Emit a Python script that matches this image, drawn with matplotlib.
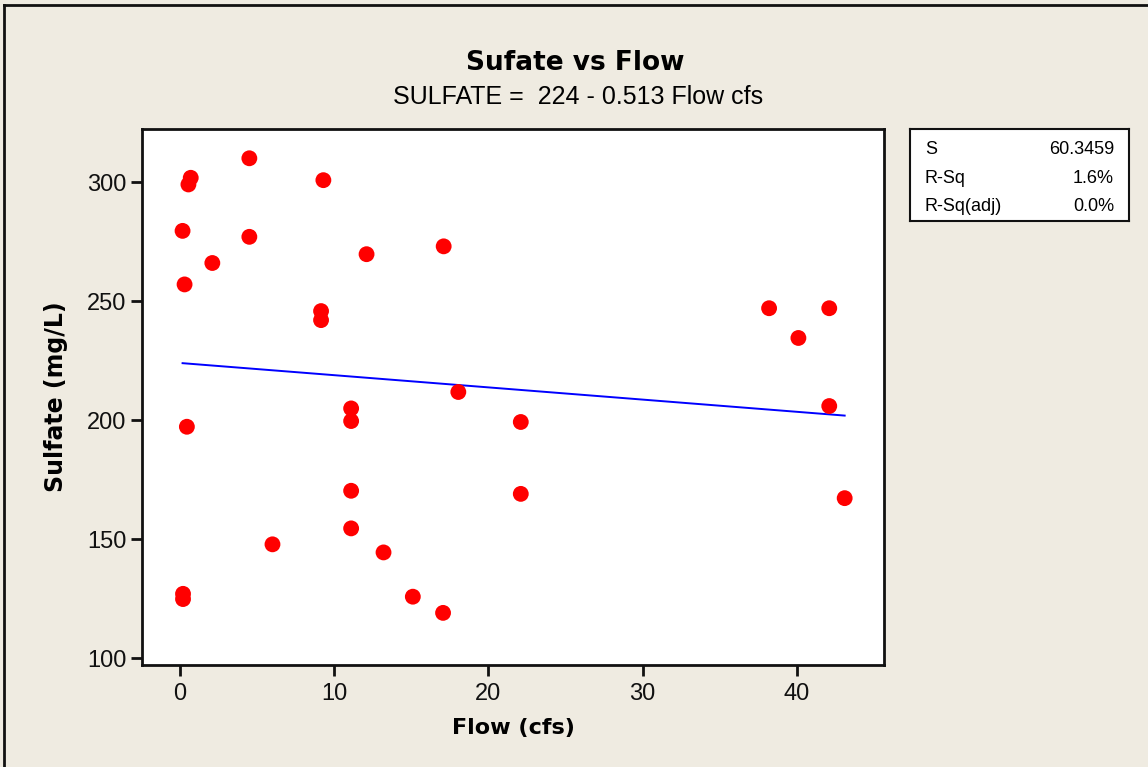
import numpy as np
import matplotlib
matplotlib.use("Agg")
import matplotlib.pyplot as plt
from matplotlib.lines import Line2D

# data
flow = [0.7, 0.55, 4.5, 9.3, 0.17, 4.5, 2.1, 0.3, 12.1, 17.1,
        9.15, 9.15, 0.45, 11.1, 11.1, 11.1, 11.1, 6.0, 13.2, 0.2,
        0.2, 15.1, 17.06, 18.05, 22.1, 22.1, 38.2, 40.1, 42.1, 42.1,
        43.1]
sulfate = [301.8, 299.0, 310.0, 300.8, 279.5, 277.0, 266.0, 257.0, 269.7, 273.0,
           245.8, 242.0, 197.2, 204.9, 199.6, 170.3, 154.5, 147.8, 144.4, 127.0,
           124.8, 125.8, 119.0, 211.8, 199.2, 169.0, 247.0, 234.5, 247.0, 205.9,
           167.2]

intercept = 224
slope = -0.513
stat_names = ["S", "R-Sq", "R-Sq(adj)"]
stat_values = ["60.3459", "1.6%", "0.0%"]

bg = "#EFEBE1"
plt.rcParams["font.family"] = ["Liberation Sans", "DejaVu Sans"]
bold = ["DejaVu Sans"]

W, H = 1148, 767
fig = plt.figure(figsize=(W / 100, H / 100), dpi=100, facecolor=bg)

def px(l, t, r, b):
    return [l / W, 1 - b / H, (r - l) / W, (b - t) / H]

ax = fig.add_axes(px(142, 129, 884, 665))
ax.set_facecolor("white")

xs = np.array([min(flow), max(flow)])
ax.plot(xs, intercept + slope * xs, color="#0000FF", lw=1.4, zorder=2)
ax.scatter(flow, sulfate, s=130, color="#FF0000", edgecolors="none", zorder=3)

ax.set_xlim(-2.46, 45.65)
ax.set_ylim(97.1, 322.3)
ax.set_xticks([0, 10, 20, 30, 40])
ax.set_yticks([100, 150, 200, 250, 300])
ax.tick_params(direction="out", length=8, width=2, labelsize=17,
               colors="#111111", pad=3)
ax.tick_params(axis="x", pad=5)
for sp in ax.spines.values():
    sp.set_linewidth(2)
    sp.set_color("#111111")

ax.set_xlabel("Flow (cfs)", fontsize=16, fontweight="bold", family=bold, labelpad=9)
ax.set_ylabel("Sulfate (mg/L)", fontsize=17, fontweight="bold", family=bold, labelpad=14)

fig.text(575 / W, 1 - 63 / H, "Sufate vs Flow", ha="center", va="center",
         fontsize=19, fontweight="bold", family=bold)
fig.text(578 / W, 1 - 97 / H, "SULFATE =  224 - 0.513 Flow cfs", ha="center",
         va="center", fontsize=18)

# stats box
sax = fig.add_axes(px(910, 129, 1129, 221))
sax.set_facecolor("white")
sax.set_xticks([])
sax.set_yticks([])
for sp in sax.spines.values():
    sp.set_linewidth(1.5)
    sp.set_color("#111111")
rows_y = [150, 178.5, 206.5]
for n, v, yy in zip(stat_names, stat_values, rows_y):
    fy = 1 - yy / H
    fig.text(925 / W, fy, n, ha="left", va="center", fontsize=13)
    fig.text(1114 / W, fy, v, ha="right", va="center", fontsize=13)

# outer frame edges
fig.add_artist(Line2D([4 / W, 1], [1 - 5 / H, 1 - 5 / H], color="#111111", lw=2))
fig.add_artist(Line2D([4 / W, 4 / W], [0, 1 - 5 / H], color="#111111", lw=2))

fig.savefig("out.png", dpi=100, facecolor=bg)
